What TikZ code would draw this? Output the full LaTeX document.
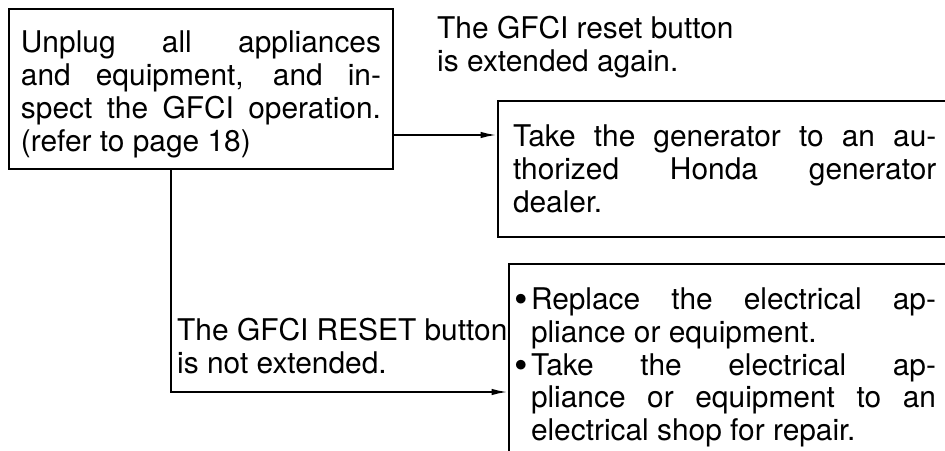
\documentclass[tikz,border=0pt]{standalone}
\usepackage{fontspec}
\setmainfont{TeX Gyre Heros}
\usetikzlibrary{arrows.meta, positioning, calc}
\tolerance=9999
\hbadness=10000
\hyphenpenalty=10000
\tikzset{
  box/.style   = {draw, line width=1.7pt, align=justify, inner ysep=0pt,
                  font={\fontsize{25.5}{28}\selectfont}},
  cond/.style  = {align=left, inner sep=0pt, font={\fontsize{25.5}{28}\selectfont}},
  arrow/.style = {-{Latex[length=14pt,width=5.5pt]}, line width=1.7pt},
}
\newcommand{\itembullet}{\llap{\raisebox{-2.5pt}{\fontsize{33}{33}\selectfont\textbullet}\hspace{0.1cm}}}
\begin{document}
\begin{tikzpicture}[x=0.03cm, y=-0.03cm]
  \useasboundingbox (0,0) rectangle (945,451);
  \clip (0,0) rectangle (945,451);
  % boxes
  \node[box, anchor=north west, text width=10.8cm, inner xsep=0.36cm, minimum height=4.8cm] (check) at (8,8)
    {\rule{0pt}{0.97cm}Unplug all appliances\linebreak and equipment, and in-\linebreak spect the GFCI operation.\linebreak (refer to page 18)};
  \node[box, anchor=north west, text width=12.7cm, inner xsep=0.45cm, minimum height=4.08cm] (dealer) at (497,100)
    {Take the generator to an au-\linebreak thorized Honda generator\linebreak dealer.};
  \node[box, anchor=north west, text width=13.05cm, inner xsep=0.21cm, minimum height=6.21cm] (repair) at (508,263)
    {{\leftskip=0.45cm \rightskip=0.45cm
     \itembullet Replace the electrical ap-\linebreak pliance or equipment.\hfil\break
     \itembullet Take the electrical ap-\linebreak pliance or equipment to an\linebreak electrical shop for repair.\par}};
  % connectors
  \coordinate (yesrow) at (0,135);
  \coordinate (norow) at (0,392);
  \coordinate (nocol) at (171,0);
  \draw[arrow] (check.east |- yesrow) -- (dealer.west |- yesrow);
  \draw[arrow] (check.south -| nocol) |- (repair.west |- norow);
  % conditions
  \node[cond, anchor=west] (yeslbl) at (437,47) {The GFCI reset button\\is extended again.};
  \node[cond, anchor=west] (nolbl) at (177,346) {The GFCI RESET button\\is not extended.};
\end{tikzpicture}
\end{document}
